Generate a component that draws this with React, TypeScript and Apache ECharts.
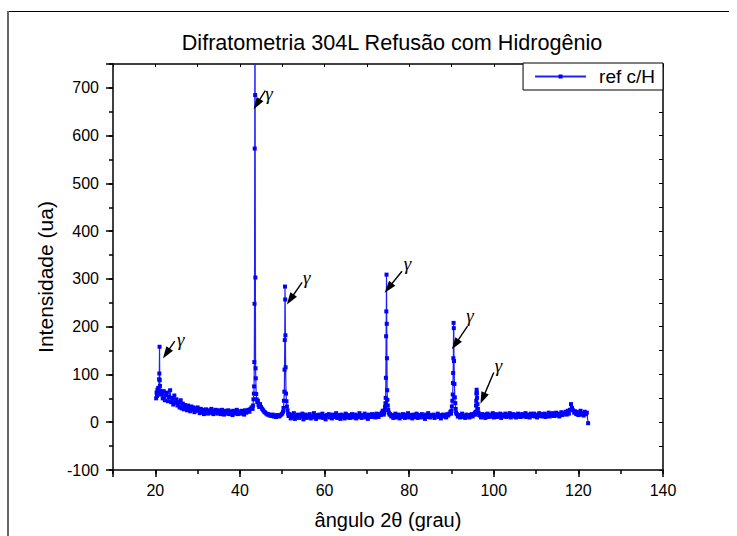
import React, { useEffect, useRef } from 'react';
import * as echarts from 'echarts';

// ---- Data: 2θ (deg) vs intensity (a.u.) ----
// peaks, explicit [angle, intensity] pairs
const peak1: [number, number][] = [
  [20.2, 50], [20.3, 62], [20.4, 55], [20.5, 68], [20.6, 58], [20.7, 72], [20.8, 64],
  [20.9, 90], [20.95, 102], [21.0, 158], [21.05, 88], [21.1, 76], [21.2, 66], [21.35, 60],
];
const peak2: [number, number][] = [
  [43.0, 28], [43.1, 35], [43.2, 48], [43.3, 60], [43.35, 75], [43.4, 126], [43.45, 248],
  [43.5, 573], [43.55, 980], [43.6, 685], [43.65, 303], [43.7, 113], [43.75, 92],
  [43.85, 59], [43.95, 48], [44.1, 42], [44.25, 45], [44.4, 36], [44.55, 32],
];
const peak3: [number, number][] = [
  [50.2, 22], [50.3, 30], [50.4, 45], [50.5, 64], [50.55, 110], [50.6, 172], [50.65, 284],
  [50.7, 257], [50.75, 182], [50.8, 115], [50.9, 60], [51.0, 44], [51.1, 33], [51.25, 25], [51.4, 18],
];
const peak4: [number, number][] = [
  [74.0, 16], [74.1, 20], [74.2, 25], [74.3, 32], [74.4, 40], [74.45, 51], [74.5, 93],
  [74.55, 180], [74.6, 232], [74.65, 309], [74.7, 206], [74.75, 134], [74.8, 67], [74.85, 47],
  [74.95, 35], [75.05, 26], [75.2, 20], [75.35, 16],
];
const peak5: [number, number][] = [
  [89.9, 18], [90.0, 24], [90.1, 33], [90.2, 45], [90.3, 58], [90.35, 82], [90.4, 103],
  [90.45, 134], [90.5, 208], [90.55, 197], [90.6, 128], [90.7, 80], [90.8, 52], [90.9, 40],
  [91.0, 28], [91.1, 20],
];
const peak6: [number, number][] = [
  [95.6, 16], [95.7, 22], [95.8, 35], [95.85, 45], [95.9, 60], [95.95, 68], [96.0, 61],
  [96.05, 51], [96.15, 38], [96.25, 28], [96.4, 20], [96.55, 15],
];
const scanEnd: [number, number][] = [[122.3, -2]];

// background segments on the 0.25° scan grid
const bgStep = 0.25;
const bg1Start = 21.5;
const bg1 = [
  58, 50, 65, 46, 56, 62, 44,
  53, 67, 42, 51, 37, 56, 41, 48,
  35, 42, 31, 46, 29, 39, 27, 36,
  32, 25, 35, 28, 23, 33, 26, 31, 21, 29, 24, 31,
  25, 19, 28, 21, 26, 17, 24, 27, 20, 18, 25, 21, 28, 19, 17, 24, 26, 20, 18, 25,
  23, 17, 26, 19, 16, 24, 20, 18, 25, 17, 23, 19, 15, 24, 18, 22, 26, 17, 21, 23,
  18, 24, 19, 16, 25, 20, 23, 26, 22, 28, 31,
];
const bg2Start = 44.75;
const bg2 = [38, 32, 28, 25, 22, 20, 18, 16, 17, 14, 15, 13, 16, 12, 14, 11, 15, 13, 12, 14, 16, 18];
const bg3Start = 51.5;
const bg3 = [
  13, 17, 8, 15, 10, 19, 7, 14, 11, 16,
  9, 15, 12, 18, 6, 13, 16, 9, 14, 11,
  17, 8, 13, 10, 19, 12, 7, 15, 11, 16,
  10, 14, 18, 9, 13, 6, 15, 12, 17, 10,
  14, 8, 16, 11, 13, 19, 9, 12, 15, 7,
  16, 11, 14, 8, 18, 12, 10, 15, 9, 13,
  17, 10, 12, 16, 8, 14, 11, 19, 13, 9,
  15, 12, 18, 10, 14, 7, 16, 13, 11, 17,
  12, 15, 10, 18, 14, 11, 17, 15, 20, 24,
];
const bg4Start = 75.5;
const bg4 = [
  17, 12, 15, 9, 14, 18, 10, 13, 16, 8,
  14, 11, 17, 13, 9, 16, 12, 19, 10, 15,
  12, 8, 16, 14, 11, 18, 9, 13, 15, 10,
  17, 12, 14, 7, 16, 11, 19, 13, 10, 15,
  13, 16, 9, 14, 12, 18, 11, 15, 8, 14,
  16, 12, 15, 10, 17, 14, 18, 22,
];
const bg5Start = 91.25;
const bg5 = [17, 12, 15, 10, 14, 18, 11, 13, 9, 16, 12, 15, 10, 14, 17, 12, 16, 19];
const bg6Start = 96.75;
const bg6 = [
  14, 10, 17, 12, 16, 9, 15, 18, 11, 13,
  16, 12, 19, 10, 14, 17, 11, 15, 13, 18,
  9, 14, 16, 12, 18, 11, 15, 13, 19, 10,
  15, 17, 12, 16, 10, 14, 18, 13, 11, 16,
  17, 12, 15, 19, 11, 14, 16, 10, 18, 13,
  15, 18, 12, 16, 10, 14, 19, 13, 17, 12,
  14, 18, 11, 16, 13, 20, 12, 17, 15, 19,
  13, 17, 20, 14, 18, 12, 16, 21, 15, 18,
  19, 22, 16, 24, 18, 26, 38, 30, 25, 20,
  23, 17, 21, 15, 20, 24, 16, 19, 14, 22,
  17, 20,
];

// γ annotations (data coordinates)
const arrowTail: [number, number][] = [[24.6, 170], [46.0, 694], [54.7, 293], [78.3, 316], [93.8, 201], [100.0, 104]];
const arrowTip: [number, number][] = [[22.6, 144], [44.0, 666], [51.9, 257], [75.1, 281], [90.9, 163], [97.4, 50]];
const gammaPos: [number, number][] = [[26.0, 174], [46.9, 689], [55.8, 302], [79.6, 333], [94.4, 224], [101.1, 119]];

const xMajorTicks = [10, 20, 40, 60, 80, 100, 120, 140];
const yMajorTicks = [-100, 0, 100, 200, 300, 400, 500, 600, 700, 750];

const FONT = '"Liberation Sans", Arial, sans-serif';

function buildData(): [number, number][] {
  const pts: [number, number][] = [];
  const addBg = (start: number, vals: number[]) =>
    vals.forEach((v, i) => pts.push([Math.round((start + i * bgStep) * 100) / 100, v]));
  addBg(bg1Start, bg1);
  addBg(bg2Start, bg2);
  addBg(bg3Start, bg3);
  addBg(bg4Start, bg4);
  addBg(bg5Start, bg5);
  addBg(bg6Start, bg6);
  [peak1, peak2, peak3, peak4, peak5, peak6, scanEnd].forEach((p) => p.forEach((q) => pts.push([q[0], q[1]])));
  pts.sort((a, b) => a[0] - b[0]);
  return pts;
}

export default function App() {
  const ref = useRef<HTMLDivElement>(null);
  useEffect(() => {
    if (!ref.current) return;
    const chart = echarts.init(ref.current, null, { renderer: 'svg' });
    const data = buildData();
    chart.setOption({
      animation: false,
      backgroundColor: '#fff',
      title: {
        text: 'Difratometria 304L Refusão com Hidrogênio',
        left: 392,
        top: 31,
        textAlign: 'center',
        padding: 0,
        textStyle: { fontSize: 21.6, fontWeight: 'normal', color: '#000', fontFamily: FONT },
      },
      legend: {
        data: ['ref c/H'],
        right: 74,
        top: 63,
        itemWidth: 51,
        itemHeight: 5,
        padding: [4, 8, 4, 11],
        borderColor: '#000',
        borderWidth: 1,
        borderRadius: 0,
        backgroundColor: '#fff',
        textStyle: { fontSize: 19, color: '#000', fontFamily: FONT, padding: [0, 0, 0, 8] },
      },
      grid: { left: 113, right: 74, top: 64, bottom: 66 },
      xAxis: [
        {
          type: 'value', position: 'bottom', min: 10, max: 140, interval: 10,
          name: 'ângulo 2θ (grau)', nameLocation: 'middle', nameGap: 40,
          nameTextStyle: { fontSize: 20, color: '#000', fontFamily: FONT },
          axisLine: { onZero: false, lineStyle: { color: '#000', width: 1.5 } },
          axisTick: { show: true, inside: false, length: 4, lineStyle: { color: '#000', width: 1.5 } },
          axisLabel: {
            color: '#000', fontSize: 16, fontFamily: FONT, margin: 12,
            formatter: (v: number) => (v % 20 === 0 ? String(v) : ''),
          },
          splitLine: { show: false },
        },
        {
          type: 'value', position: 'bottom', min: 10, max: 140, interval: 10,
          axisLine: { show: false, onZero: false },
          axisTick: { show: true, inside: false, length: 7, customValues: xMajorTicks, lineStyle: { color: '#000', width: 1.5 } },
          axisLabel: { show: false },
          splitLine: { show: false },
        },
        {
          type: 'value', position: 'top', min: 10, max: 140, interval: 10,
          axisLine: { onZero: false, lineStyle: { color: '#000', width: 1.5 } },
          axisTick: { show: true, inside: true, length: 3, lineStyle: { color: '#000', width: 1 } },
          axisLabel: { show: false },
          splitLine: { show: false },
        },
      ],
      yAxis: [
        {
          type: 'value', position: 'left', min: -100, max: 750, interval: 50,
          name: 'Intensidade (ua)', nameLocation: 'middle', nameGap: 53,
          nameTextStyle: { fontSize: 21, color: '#000', fontFamily: FONT, padding: [0, 20, 0, 0] },
          axisLine: { onZero: false, lineStyle: { color: '#000', width: 1.5 } },
          axisTick: { show: true, inside: false, length: 4, lineStyle: { color: '#000', width: 1.5 } },
          axisLabel: {
            color: '#000', fontSize: 16, fontFamily: FONT, margin: 14,
            formatter: (v: number) => (v % 100 === 0 && v <= 700 ? String(v) : ''),
          },
          splitLine: { show: false },
        },
        {
          type: 'value', position: 'left', min: -100, max: 750, interval: 50,
          axisLine: { show: false, onZero: false },
          axisTick: { show: true, inside: false, length: 7, customValues: yMajorTicks, lineStyle: { color: '#000', width: 1.5 } },
          axisLabel: { show: false },
          splitLine: { show: false },
        },
        {
          type: 'value', position: 'right', min: -100, max: 750, interval: 50,
          axisLine: { onZero: false, lineStyle: { color: '#000', width: 1.5 } },
          axisTick: { show: true, inside: true, length: 4, lineStyle: { color: '#000', width: 1 } },
          axisLabel: { show: false },
          splitLine: { show: false },
        },
      ],
      series: [
        {
          name: 'ref c/H',
          type: 'line',
          xAxisIndex: 0,
          yAxisIndex: 0,
          data,
          symbol: 'rect',
          symbolSize: 4,
          showSymbol: true,
          clip: true,
          lineStyle: { color: '#2020ff', width: 1.2 },
          itemStyle: { color: '#0000ff' },
          emphasis: { disabled: true },
          markLine: {
            silent: true,
            animation: false,
            symbol: ['none', 'triangle'],
            symbolSize: 10,
            lineStyle: { color: '#000', width: 1.4, type: 'solid' },
            itemStyle: { color: '#000' },
            label: { show: false },
            emphasis: { disabled: true },
            data: arrowTail.map((t, i) => [
              { coord: t, symbol: 'none' },
              { coord: arrowTip[i], symbol: 'triangle', symbolSize: [8, 12] },
            ]),
          },
          markPoint: {
            silent: true,
            animation: false,
            symbol: 'circle',
            symbolSize: 1,
            itemStyle: { color: 'rgba(0,0,0,0)' },
            label: {
              show: true, position: 'inside', formatter: 'γ', color: '#000',
              fontSize: 19, fontStyle: 'italic', fontFamily: '"Liberation Serif", "DejaVu Serif", serif',
            },
            data: gammaPos.map((c) => ({ coord: c })),
          },
        },
      ],
      graphic: [
        { type: 'line', silent: true, shape: { x1: 8, y1: 11.5, x2: 729, y2: 11.5 }, style: { stroke: '#000', lineWidth: 1 } },
        { type: 'line', silent: true, shape: { x1: 8, y1: 11, x2: 8, y2: 536 }, style: { stroke: '#666', lineWidth: 2 } },
      ],
    });
    return () => chart.dispose();
  }, []);
  return <div ref={ref} style={{ position: 'fixed', left: 0, top: 0, width: 737, height: 536 }} />;
}
